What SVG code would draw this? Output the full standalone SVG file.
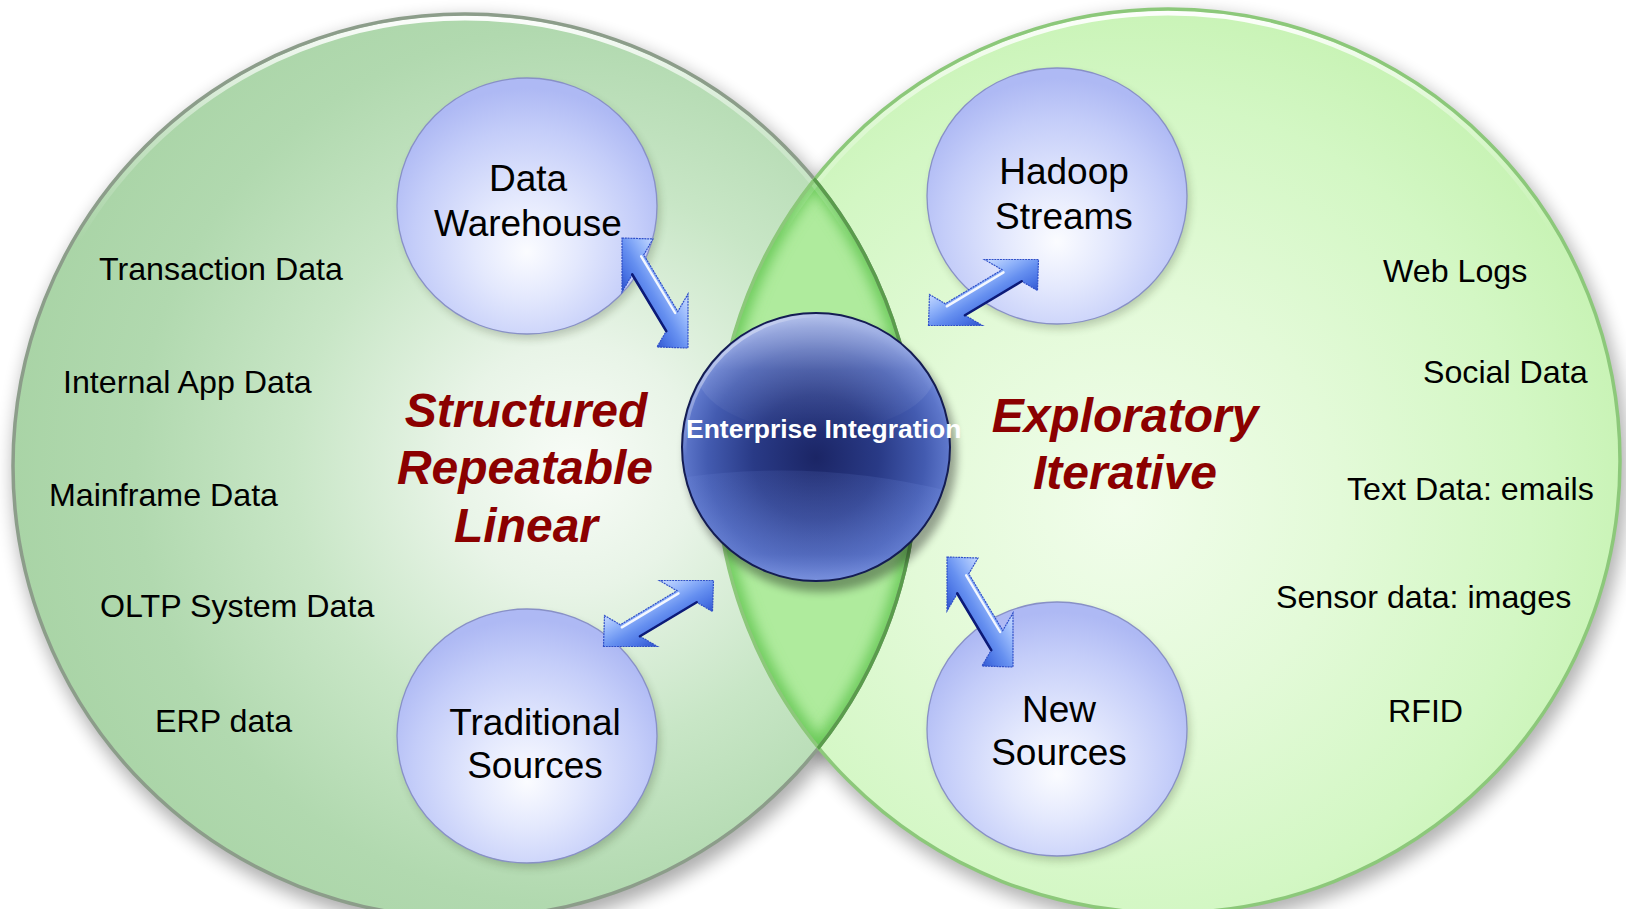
<svg xmlns="http://www.w3.org/2000/svg" width="1626" height="909" viewBox="0 0 1626 909">
<defs>
<style>
.lbl{font-family:"Liberation Sans",Arial,sans-serif;font-size:32.2px;fill:#000}
.node{font-family:"Liberation Sans",Arial,sans-serif;font-size:37px;fill:#000;text-anchor:middle}
.theme{font-family:"Liberation Sans",Arial,sans-serif;font-size:48px;font-weight:bold;font-style:italic;fill:#8b0000;text-anchor:middle}
.ei{font-family:"Liberation Sans",Arial,sans-serif;font-size:26.5px;font-weight:bold;fill:#fff}
.bubble{fill:url(#gBubble);stroke:#8890c6;stroke-width:1.3}
.bshadow{fill:#1a2a10;opacity:0.22;filter:url(#fSoft)}
.arrow{fill:url(#gArrow);stroke:#2f4fc8;stroke-width:1.2;stroke-dasharray:2 0.8}
.adark{stroke:#0c1a78;stroke-width:2.6;fill:none;stroke-linecap:round}
.ahi{stroke:#fff;stroke-width:2.4;fill:none;opacity:0.9;stroke-linecap:round}
</style>
<radialGradient id="gLeft" cx="0.62" cy="0.5" r="0.62">
<stop offset="0" stop-color="#f8fcf7"/>
<stop offset="0.22" stop-color="#e8f4e7"/>
<stop offset="0.5" stop-color="#c8e6c6"/>
<stop offset="0.78" stop-color="#b1d9af"/>
<stop offset="1" stop-color="#a9d4a6"/>
</radialGradient>
<radialGradient id="gRight" cx="0.45" cy="0.55" r="0.6">
<stop offset="0" stop-color="#f1fdeb"/>
<stop offset="0.4" stop-color="#e3fad8"/>
<stop offset="0.75" stop-color="#d3f7c4"/>
<stop offset="1" stop-color="#c5f2b1"/>
</radialGradient>
<linearGradient id="gTopHi" x1="0" y1="0" x2="0" y2="1">
<stop offset="0" stop-color="#fff" stop-opacity="0.95"/>
<stop offset="0.12" stop-color="#fff" stop-opacity="0.35"/>
<stop offset="0.25" stop-color="#fff" stop-opacity="0"/>
</linearGradient>
<radialGradient id="gBubble" cx="0.5" cy="0.62" r="0.58" fx="0.5" fy="0.68">
<stop offset="0" stop-color="#fbfcff"/>
<stop offset="0.35" stop-color="#e3e8fd"/>
<stop offset="0.75" stop-color="#c4cdf9"/>
<stop offset="1" stop-color="#aeb9f4"/>
</radialGradient>
<radialGradient id="gSphere" cx="0.5" cy="0.54" r="0.52">
<stop offset="0" stop-color="#1b2565"/>
<stop offset="0.45" stop-color="#293a86"/>
<stop offset="0.78" stop-color="#435bb0"/>
<stop offset="0.94" stop-color="#5c75c9"/>
<stop offset="1" stop-color="#6d86d6"/>
</radialGradient>
<linearGradient id="gGloss" x1="0" y1="0" x2="0" y2="1">
<stop offset="0" stop-color="#fff" stop-opacity="0.5"/>
<stop offset="0.5" stop-color="#fff" stop-opacity="0.12"/>
<stop offset="1" stop-color="#fff" stop-opacity="0"/>
</linearGradient>
<linearGradient id="gLower" x1="0" y1="0" x2="0" y2="1">
<stop offset="0" stop-color="#7a94e6" stop-opacity="0.12"/>
<stop offset="0.7" stop-color="#7a94e6" stop-opacity="0.35"/>
<stop offset="1" stop-color="#9ab0f4" stop-opacity="0.7"/>
</linearGradient>
<linearGradient id="gRimHi" x1="0" y1="0" x2="0.6" y2="0.6">
<stop offset="0" stop-color="#fff" stop-opacity="0.9"/>
<stop offset="0.45" stop-color="#fff" stop-opacity="0"/>
</linearGradient>
<linearGradient id="gArrow" gradientUnits="userSpaceOnUse" x1="22" y1="-13" x2="-22" y2="13">
<stop offset="0" stop-color="#c4d8ff"/>
<stop offset="0.3" stop-color="#8fb2fa"/>
<stop offset="0.55" stop-color="#6690f0"/>
<stop offset="0.8" stop-color="#4a74e4"/>
<stop offset="1" stop-color="#3458d0"/>
</linearGradient>
<filter id="fShadow" x="-10%" y="-10%" width="120%" height="120%"><feGaussianBlur stdDeviation="9"/></filter>
<filter id="fSoft" x="-20%" y="-20%" width="140%" height="140%"><feGaussianBlur stdDeviation="4"/></filter>
<filter id="fGlow" x="-10%" y="-10%" width="120%" height="120%"><feGaussianBlur stdDeviation="7"/></filter>
<clipPath id="cLeft"><circle cx="465" cy="466" r="453"/></clipPath>
<clipPath id="cRight"><circle cx="1168" cy="461" r="453"/></clipPath>
<clipPath id="cSphere"><circle cx="816" cy="447" r="134"/></clipPath>
<polygon id="dblArrow" points="-33,-55 -2,-54 -11.25,-38.18 22.75,18.52 33,1 33,55 2,54 11.25,38.18 -22.75,-18.52 -33,-1"/>
</defs>
<rect width="1626" height="909" fill="#fff"/>

<g id="venn">
<circle cx="469" cy="474" r="456" fill="#000" opacity="0.32" filter="url(#fShadow)"/>
<circle cx="1172" cy="469" r="456" fill="#000" opacity="0.3" filter="url(#fShadow)"/>
<circle cx="465" cy="466" r="453" fill="url(#gLeft)"/>
<circle cx="1168" cy="461" r="453" fill="url(#gRight)"/>
<g clip-path="url(#cLeft)">
<circle cx="1168" cy="461" r="453" fill="#afeb9d"/>
<g clip-path="url(#cRight)">
<circle cx="465" cy="466" r="453" fill="none" stroke="#66c854" stroke-width="16" filter="url(#fGlow)"/>
<circle cx="1168" cy="461" r="453" fill="none" stroke="#66c854" stroke-width="16" filter="url(#fGlow)"/>
</g>
</g>
<circle cx="465" cy="466" r="448" fill="none" stroke="url(#gTopHi)" stroke-width="5"/>
<circle cx="1168" cy="461" r="448" fill="none" stroke="url(#gTopHi)" stroke-width="5"/>
<circle cx="465" cy="466" r="452" fill="none" stroke="#8c9d8a" stroke-width="3.5"/>
<circle cx="1168" cy="461" r="452" fill="none" stroke="#8cc87a" stroke-width="3.5"/>
<g clip-path="url(#cRight)">
<circle cx="465" cy="466" r="452" fill="none" stroke="#5a9c4c" stroke-width="3.5"/>
</g>
</g>

<g id="themes">
<text class="theme" x="526" y="427">Structured</text>
<text class="theme" x="525" y="484">Repeatable</text>
<text class="theme" x="526" y="542">Linear</text>
<text class="theme" x="1125" y="432">Exploratory</text>
<text class="theme" x="1125" y="489">Iterative</text>
</g>

<g id="sources-left">
<text class="lbl" x="99" y="280">Transaction Data</text>
<text class="lbl" x="63" y="393">Internal App Data</text>
<text class="lbl" x="49" y="506">Mainframe Data</text>
<text class="lbl" x="100" y="617">OLTP System Data</text>
<text class="lbl" x="155" y="732">ERP data</text>
</g>
<g id="sources-right">
<text class="lbl" x="1383" y="282">Web Logs</text>
<text class="lbl" x="1423" y="383">Social Data</text>
<text class="lbl" x="1347" y="500">Text Data: emails</text>
<text class="lbl" x="1276" y="608">Sensor data: images</text>
<text class="lbl" x="1388" y="722">RFID</text>
</g>

<g id="node-data-warehouse">
<ellipse class="bshadow" cx="530" cy="211" rx="130" ry="128"/>
<ellipse class="bubble" cx="527" cy="206" rx="130" ry="128"/>
<text class="node" x="528" y="191">Data</text>
<text class="node" x="528" y="236">Warehouse</text>
</g>
<g id="node-traditional-sources">
<ellipse class="bshadow" cx="530" cy="741" rx="130" ry="127"/>
<ellipse class="bubble" cx="527" cy="736" rx="130" ry="127"/>
<text class="node" x="535" y="735">Traditional</text>
<text class="node" x="535" y="778">Sources</text>
</g>
<g id="node-hadoop-streams">
<ellipse class="bshadow" cx="1060" cy="201" rx="130" ry="128"/>
<ellipse class="bubble" cx="1057" cy="196" rx="130" ry="128"/>
<text class="node" x="1064" y="184">Hadoop</text>
<text class="node" x="1064" y="229">Streams</text>
</g>
<g id="node-new-sources">
<ellipse class="bshadow" cx="1060" cy="734" rx="130" ry="127"/>
<ellipse class="bubble" cx="1057" cy="729" rx="130" ry="127"/>
<text class="node" x="1059" y="722">New</text>
<text class="node" x="1059" y="765">Sources</text>
</g>

<g id="node-enterprise-integration">
<circle cx="821" cy="456" r="136" fill="#000" opacity="0.35" filter="url(#fSoft)"/>
<circle cx="816" cy="447" r="134" fill="url(#gSphere)"/>
<g clip-path="url(#cSphere)">
<ellipse cx="816" cy="370" rx="120" ry="62" fill="url(#gGloss)"/>
<path d="M 680 478 Q 816 458 952 492 L 952 590 L 680 590 Z" fill="url(#gLower)"/>
</g>
<circle cx="816" cy="447" r="131" fill="none" stroke="url(#gRimHi)" stroke-width="3"/>
<circle cx="816" cy="447" r="134" fill="none" stroke="#141c52" stroke-width="2"/>
<text class="ei" x="686" y="438">Enterprise Integration</text>
</g>

<g id="connectors">
<g transform="translate(655 293)">
<use href="#dblArrow" class="arrow"/>
<line class="adark" x1="-22.75" y1="-18.52" x2="11.25" y2="38.18"/>
<line class="ahi" x1="-13.85" y1="-36.7" x2="20.15" y2="20"/>
</g>
<g transform="translate(658.5 613.5) rotate(-90)">
<use href="#dblArrow" class="arrow"/>
<line class="adark" x1="-22.75" y1="-18.52" x2="11.25" y2="38.18"/>
<line class="ahi" x1="-13.85" y1="-36.7" x2="20.15" y2="20"/>
</g>
<g transform="translate(983.5 292.5) rotate(-90)">
<use href="#dblArrow" class="arrow"/>
<line class="adark" x1="-22.75" y1="-18.52" x2="11.25" y2="38.18"/>
<line class="ahi" x1="-13.85" y1="-36.7" x2="20.15" y2="20"/>
</g>
<g transform="translate(980 612)">
<use href="#dblArrow" class="arrow"/>
<line class="adark" x1="-22.75" y1="-18.52" x2="11.25" y2="38.18"/>
<line class="ahi" x1="-13.85" y1="-36.7" x2="20.15" y2="20"/>
</g>
</g>
</svg>
